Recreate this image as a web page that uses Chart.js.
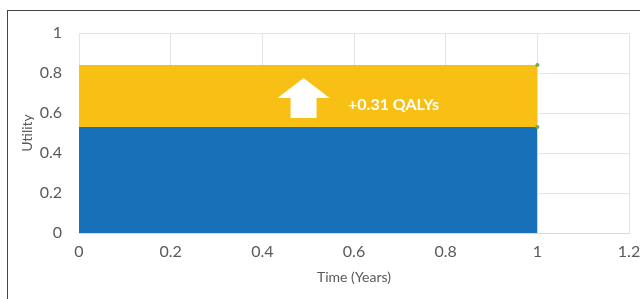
<!DOCTYPE html>
<html>
<head>
<meta charset="utf-8">
<script src="https://cdn.jsdelivr.net/npm/chart.js@4"></script>
<style>
  html, body { margin: 0; padding: 0; background: #fff; overflow: hidden; }
  #frame { position: absolute; left: 7px; top: 10px; width: 700px; height: 400px; border: 1px solid #444; }
  #wrap { position: absolute; left: 0; top: 0; width: 640px; height: 299px; }
</style>
</head>
<body>
<div id="frame"></div>
<div id="wrap"><canvas id="qalyChart" width="640" height="299"></canvas></div>
<script>
// utility before / after over one year
const timePoints = [0, 1];
const baseUtility = [0.53, 0.53];
const newUtility = [0.84, 0.84];
const xTicks = [0, 0.2, 0.4, 0.6, 0.8, 1, 1.2];
const yTicks = [0, 0.2, 0.4, 0.6, 0.8, 1];
const gainLabel = '+0.31 QALYs';

const toPoints = (xs, ys) => xs.map((x, i) => ({ x: x, y: ys[i] }));

// white arrow + label inside the yellow band
const gainArrow = {
  id: 'gainArrow',
  afterDatasetsDraw(chart) {
    const { ctx, scales: { x, y } } = chart;
    const cx = x.getPixelForValue(0.49);
    const top = y.getPixelForValue(0.775);
    const neck = y.getPixelForValue(0.675);
    const bottom = y.getPixelForValue(0.575);
    ctx.save();
    ctx.fillStyle = '#fff';
    ctx.beginPath();
    ctx.moveTo(cx, top);
    ctx.lineTo(cx + 26, neck);
    ctx.lineTo(cx + 13, neck);
    ctx.lineTo(cx + 13, bottom);
    ctx.lineTo(cx - 13, bottom);
    ctx.lineTo(cx - 13, neck);
    ctx.lineTo(cx - 26, neck);
    ctx.closePath();
    ctx.fill();
    ctx.font = 'bold 16px Lato';
    ctx.textBaseline = 'middle';
    ctx.fillText(gainLabel, x.getPixelForValue(0.587), y.getPixelForValue(0.64));
    ctx.restore();
  }
};

const tickFont = { family: 'Lato', size: 16 };
const plainLabel = (v) => String(v);

new Chart(document.getElementById('qalyChart'), {
  type: 'line',
  data: {
    datasets: [
      {
        data: toPoints(timePoints, baseUtility),
        borderWidth: 0,
        backgroundColor: '#1770b8',
        fill: 'origin',
        pointRadius: [0, 2],
        pointBackgroundColor: '#70ad47',
        pointBorderWidth: 0
      },
      {
        data: toPoints(timePoints, newUtility),
        borderWidth: 0,
        backgroundColor: '#f8bf14',
        fill: '-1',
        pointRadius: [0, 2],
        pointBackgroundColor: '#70ad47',
        pointBorderWidth: 0
      }
    ]
  },
  options: {
    responsive: false,
    animation: false,
    layout: { padding: { left: 0, right: 11, top: 33, bottom: 0 } },
    plugins: { legend: { display: false }, tooltip: { enabled: false } },
    scales: {
      x: {
        type: 'linear',
        min: 0,
        max: 1.2,
        afterBuildTicks: (s) => { s.ticks = xTicks.map(v => ({ value: v })); },
        afterFit: (s) => { s.height = 66; s.paddingLeft = 0; s.paddingRight = 0; },
        grid: { color: '#e4e4e4', drawTicks: false },
        border: { color: '#d9d9d9' },
        ticks: { color: '#595959', font: tickFont, padding: 9, maxRotation: 0, callback: plainLabel },
        title: { display: true, text: 'Time (Years)', color: '#595959', font: { family: 'Lato', size: 14 }, padding: { top: 0, bottom: 13 } }
      },
      y: {
        min: 0,
        max: 1,
        afterBuildTicks: (s) => { s.ticks = yTicks.map(v => ({ value: v })); },
        afterFit: (s) => { s.width = 79; s.paddingTop = 0; s.paddingBottom = 0; },
        grid: { color: '#e4e4e4', drawTicks: false },
        border: { display: false },
        ticks: { color: '#595959', font: tickFont, padding: 17, callback: plainLabel },
        title: { display: true, text: 'Utility', color: '#595959', font: { family: 'Lato', size: 14 }, padding: { top: 19, bottom: 0 } }
      }
    }
  },
  plugins: [gainArrow]
});
</script>
</body>
</html>
